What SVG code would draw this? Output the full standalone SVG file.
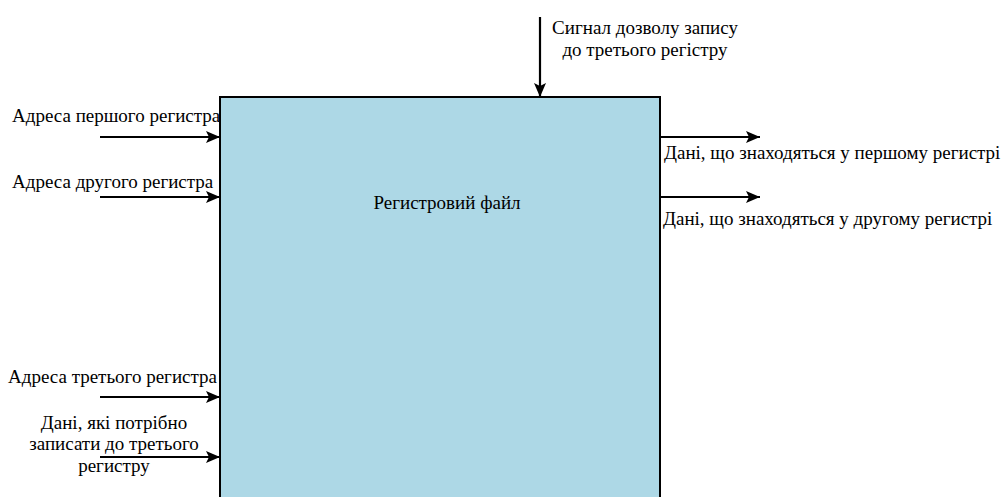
<svg xmlns="http://www.w3.org/2000/svg" width="1007" height="497" viewBox="0 0 1007 497">
<defs>
<marker id="ah" viewBox="0 0 14 12" refX="14" refY="6" markerWidth="14" markerHeight="12" markerUnits="userSpaceOnUse" orient="auto">
<path d="M0,0 L14,6 L0,12 L3,6 Z" fill="#000"/>
</marker>
</defs>
<style>
text{font-family:"Liberation Serif","Times New Roman",serif;font-size:19px;fill:#000}
.c{text-anchor:middle}
.conn line{stroke:#000;stroke-width:2.2;marker-end:url(#ah)}
</style>
<rect width="1007" height="497" fill="#fff"/>
<g id="regfile">
<rect x="220" y="97" width="440" height="402" fill="#add8e6" stroke="#000" stroke-width="2"/>
<text class="c" x="447" y="209">Регистровий файл</text>
</g>
<g id="in1"><text x="12" y="122">Адреса першого регистра</text></g>
<g id="in2"><text x="12" y="188">Адреса другого регистра</text></g>
<g id="in3"><text x="8" y="383">Адреса третього регистра</text></g>
<g id="in4">
<text class="c" x="114" y="429">Дані, які потрібно</text>
<text class="c" x="114" y="450">записати до третього</text>
<text class="c" x="114" y="472">регистру</text>
</g>
<g id="we">
<text class="c" x="645" y="34">Сигнал дозволу запису</text>
<text class="c" x="645" y="56">до третього регістру</text>
</g>
<g id="out1"><text x="664" y="159">Дані, що знаходяться у першому регистрі</text></g>
<g id="out2"><text x="663" y="225">Дані, що знаходяться у другому регистрі</text></g>
<g class="conn" id="connectors">
<line x1="100" y1="137" x2="220" y2="137"/>
<line x1="100" y1="197" x2="220" y2="197"/>
<line x1="100" y1="397" x2="220" y2="397"/>
<line x1="100" y1="457" x2="220" y2="457"/>
<line x1="540" y1="17" x2="540" y2="97"/>
<line x1="660" y1="137" x2="760" y2="137"/>
<line x1="660" y1="197" x2="760" y2="197"/>
</g>
</svg>
